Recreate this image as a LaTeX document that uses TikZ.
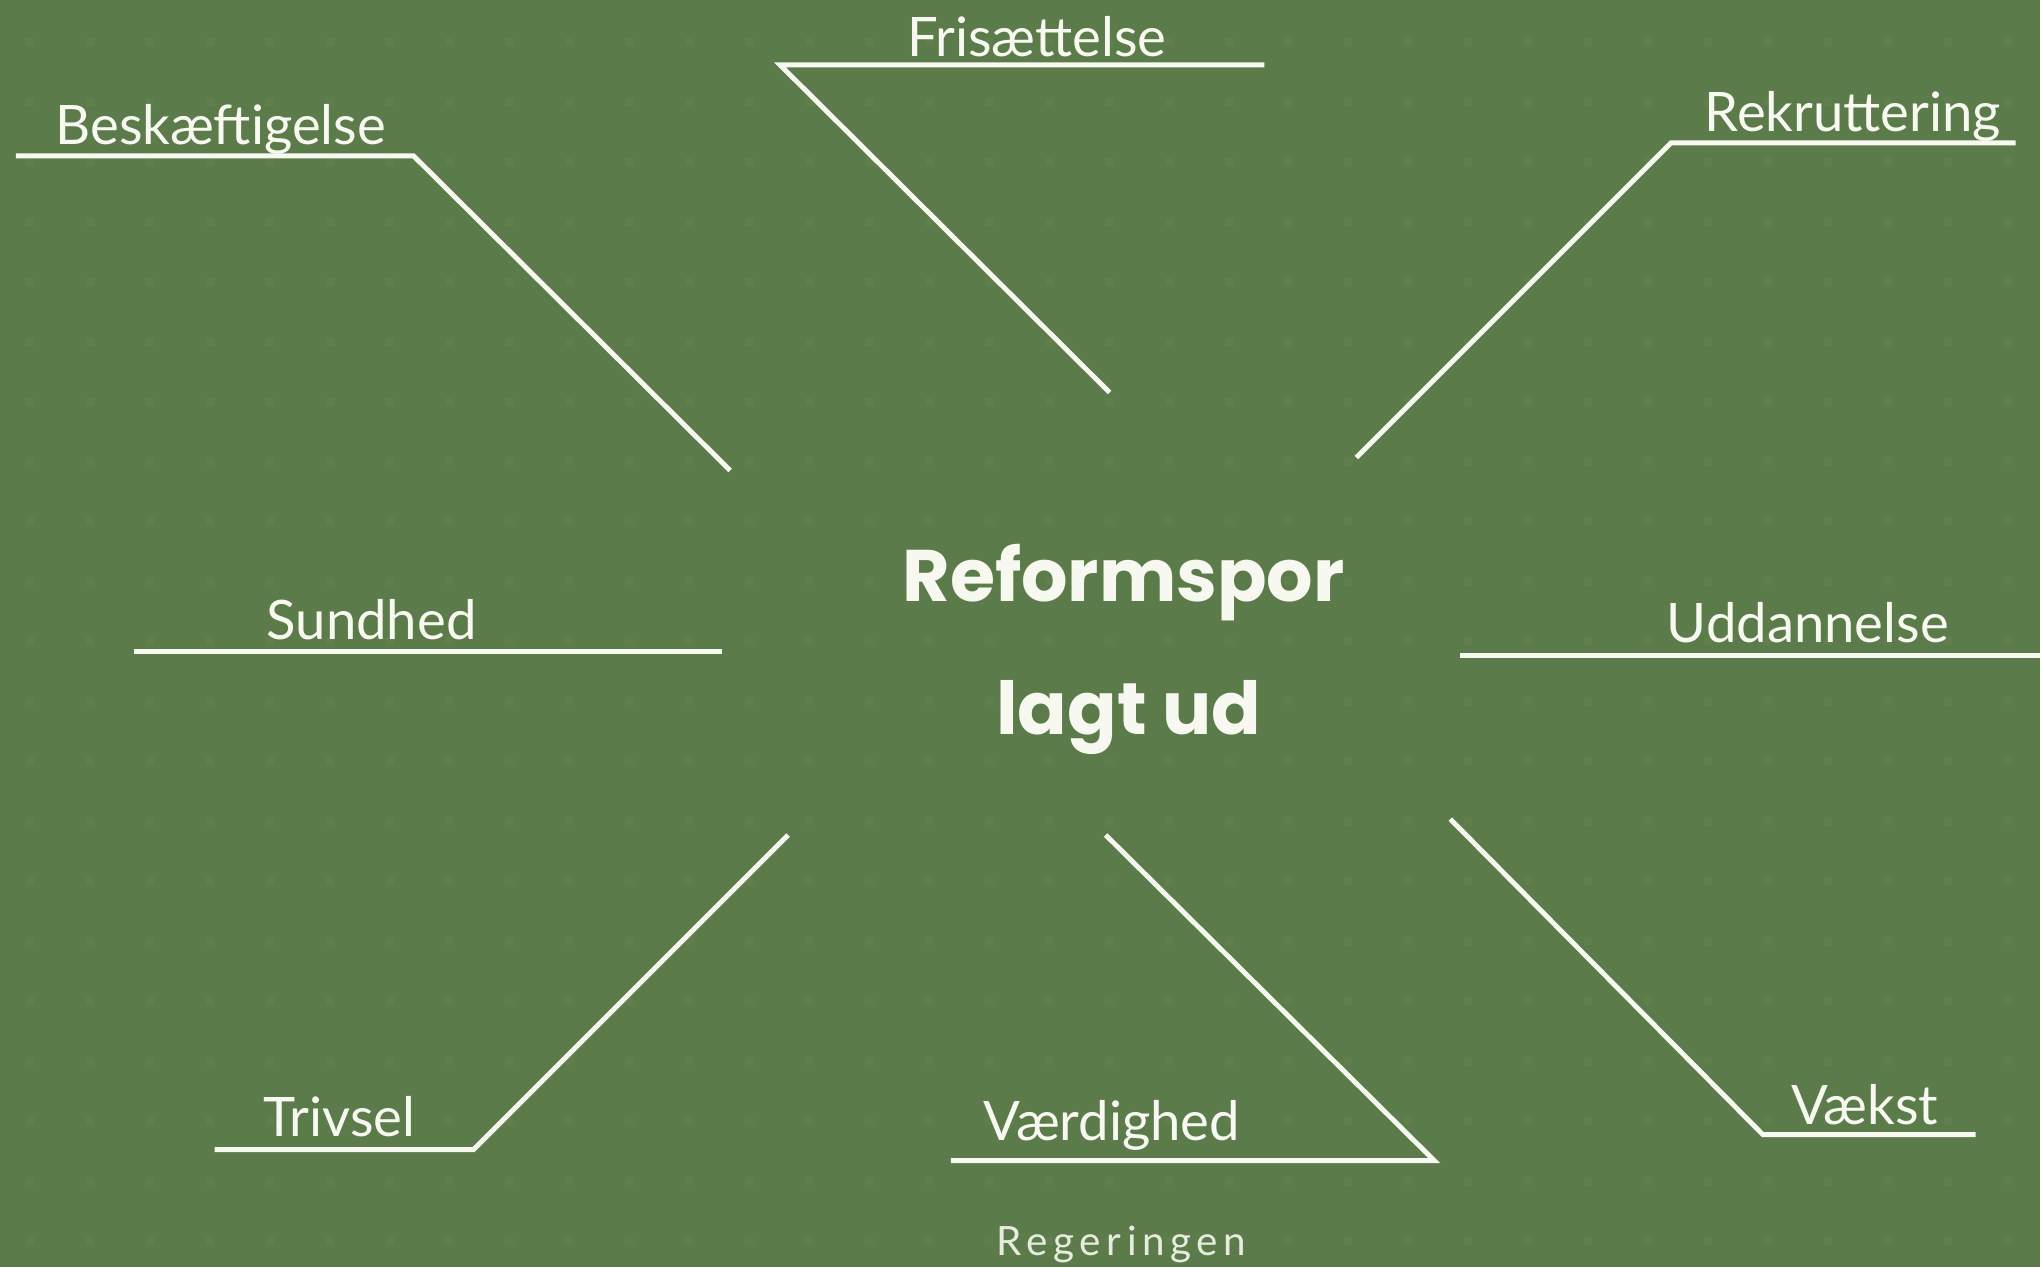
\documentclass[tikz,border=0pt]{standalone}
\usepackage{fontspec}
\setmainfont{Lato}
\newfontfamily\titlefont{Poppins}
\usetikzlibrary{calc}

\definecolor{bggreen}{HTML}{5C7B4B}
\definecolor{dotgreen}{HTML}{617F4D}
\definecolor{chalk}{HTML}{F7F8F0}

\begin{document}
\begin{tikzpicture}[x=0.01cm,y=-0.01cm,
  track/.style={draw=chalk,line width=1.4pt,line join=miter},
  tracklabel/.style={text=chalk,font=\fontsize{15.5}{18}\selectfont,anchor=base,inner sep=0pt}]

\fill[bggreen] (0,0) rectangle (2042,1269);
\foreach \x in {0,...,33} {
  \foreach \y in {0,...,20} {
    \fill[dotgreen] (26+60*\x,38+60*\y) rectangle ++(8,8);
  }
}

% ends of the tracks
\coordinate (besk-a) at (16,156);
\coordinate (besk-b) at (414,156);
\coordinate (besk-c) at (731,471);
\coordinate (fris-a) at (1266,65);
\coordinate (fris-b) at (781,65);
\coordinate (fris-c) at (1111,393);
\coordinate (rekr-a) at (2018,143);
\coordinate (rekr-b) at (1673,143);
\coordinate (rekr-c) at (1358,458);
\coordinate (sund-a) at (134,652);
\coordinate (sund-b) at (723,652);
\coordinate (udd-a) at (1462,656);
\coordinate (udd-b) at (2042,656);
\coordinate (triv-a) at (215,1151);
\coordinate (triv-b) at (474,1151);
\coordinate (triv-c) at (789,836);
\coordinate (vaerd-a) at (952,1162);
\coordinate (vaerd-b) at (1436,1162);
\coordinate (vaerd-c) at (1107,836);
\coordinate (vaekst-a) at (1978,1136);
\coordinate (vaekst-b) at (1765,1136);
\coordinate (vaekst-c) at (1452,820);

\draw[track] (besk-a) -- (besk-b) -- (besk-c);
\draw[track] (fris-a) -- (fris-b) -- (fris-c);
\draw[track] (rekr-a) -- (rekr-b) -- (rekr-c);
\draw[track] (sund-a) -- (sund-b);
\draw[track] (udd-a) -- (udd-b);
\draw[track] (triv-a) -- (triv-b) -- (triv-c);
\draw[track] (vaerd-a) -- (vaerd-b) -- (vaerd-c);
\draw[track] (vaekst-a) -- (vaekst-b) -- (vaekst-c);

% labels
\node[tracklabel] (besk) at (221,145) {Beskæftigelse};
\node[tracklabel] (fris) at (1038,57) {Frisættelse};
\node[tracklabel] (rekr) at (1855,132) {Rekruttering};
\node[tracklabel] (sund) at (372,640) {Sundhed};
\node[tracklabel] (udd) at (1810,643) {Uddannelse};
\node[tracklabel] (triv) at (340,1138) {Trivsel};
\node[tracklabel] (vaerd) at (1113,1142) {Værdighed};
\node[tracklabel] (vaekst) at (1867,1126) {Vækst};

\node[anchor=base,inner sep=0pt,text=chalk,font=\titlefont\bfseries\fontsize{20.8}{25}\selectfont] (title) at (1125,602) {Reformspor};
\node[anchor=base,inner sep=0pt,text=chalk,font=\titlefont\bfseries\fontsize{20.8}{25}\selectfont] (title2) at (1130,735) {lagt ud};

\node[anchor=base,inner sep=0pt,text=chalk!90!bggreen,font=\fontsize{11.5}{13}\selectfont\addfontfeatures{LetterSpace=14}] (source) at (1123,1257) {Regeringen};

\end{tikzpicture}
\end{document}
